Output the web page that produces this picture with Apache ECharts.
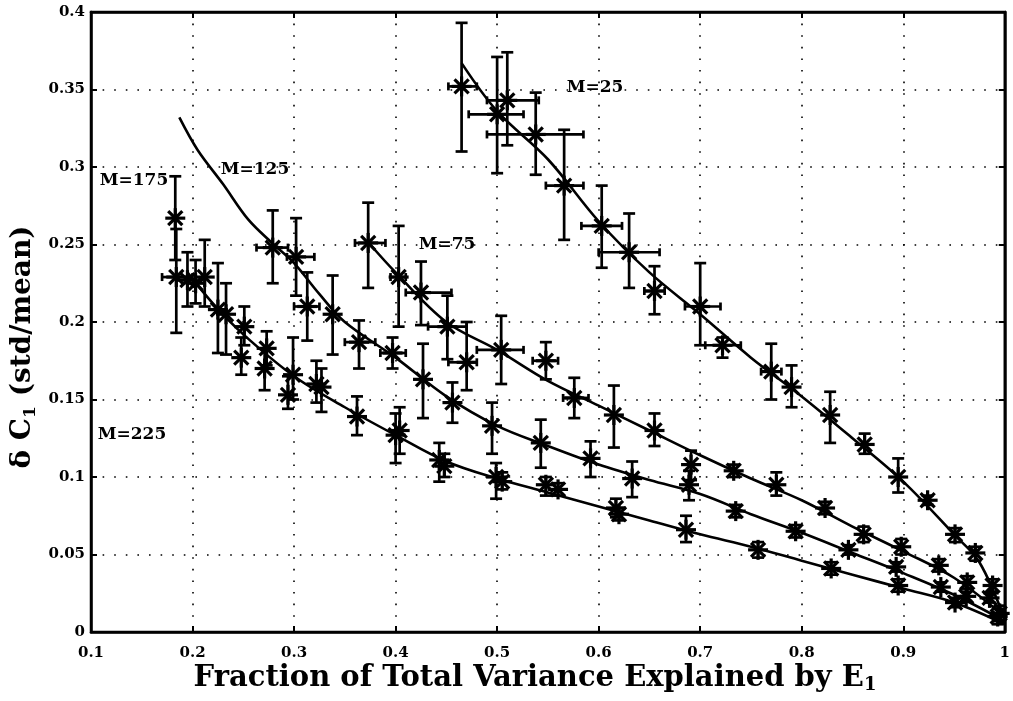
<!DOCTYPE html>
<html>
<head>
<meta charset="utf-8">
<script src="https://cdn.jsdelivr.net/npm/echarts@6/dist/echarts.min.js"></script>
<style>
  html, body { margin: 0; padding: 0; background: #fff; }
  #chart { width: 1013px; height: 701px; }
</style>
</head>
<body>
<div id="chart"></div>
<script>
// Measured points: [x, y, yLow, yHigh, xLow, xHigh]; null = no bar in that direction
const m25 = [
  [0.465, 0.352, 0.31, 0.393, 0.452, 0.48],
  [0.5, 0.334, 0.296, 0.371, 0.472, 0.526],
  [0.51, 0.343, 0.314, 0.374, 0.49, 0.541],
  [0.538, 0.321, 0.295, 0.348, 0.49, 0.585],
  [0.566, 0.288, 0.253, 0.324, 0.548, 0.585],
  [0.603, 0.262, 0.235, 0.288, 0.583, 0.623],
  [0.63, 0.245, 0.222, 0.27, 0.6, 0.66],
  [0.655, 0.22, 0.205, 0.236, 0.645, 0.665],
  [0.7, 0.21, 0.185, 0.238, 0.685, 0.72],
  [0.722, 0.185, 0.177, 0.19, 0.705, 0.74],
  [0.77, 0.168, 0.15, 0.186, 0.76, 0.78],
  [0.79, 0.158, 0.145, 0.172, null, null],
  [0.828, 0.14, 0.122, 0.155, null, null],
  [0.862, 0.121, 0.115, 0.128, null, null],
  [0.895, 0.1, 0.09, 0.112, null, null],
  [0.924, 0.085, 0.082, 0.088, null, null],
  [0.951, 0.063, 0.058, 0.067, null, null],
  [0.971, 0.051, 0.046, 0.055, null, null],
  [0.988, 0.03, 0.025, 0.034, null, null],
  [0.995, 0.012, 0.007, 0.017, null, null]
];
const m75 = [
  [0.373, 0.251, 0.222, 0.277, 0.36, 0.39],
  [0.403, 0.229, 0.197, 0.262, 0.395, 0.41],
  [0.425, 0.219, 0.198, 0.239, 0.41, 0.455],
  [0.451, 0.197, 0.176, 0.217, 0.432, 0.47],
  [0.47, 0.174, 0.156, 0.2, 0.452, 0.48],
  [0.504, 0.182, 0.16, 0.204, 0.48, 0.526],
  [0.548, 0.175, 0.163, 0.187, 0.535, 0.56],
  [0.576, 0.151, 0.138, 0.164, 0.565, 0.59],
  [0.615, 0.14, 0.119, 0.159, null, null],
  [0.655, 0.13, 0.12, 0.141, null, null],
  [0.691, 0.108, 0.098, 0.117, null, null],
  [0.733, 0.104, 0.1, 0.108, null, null],
  [0.775, 0.095, 0.088, 0.103, null, null],
  [0.823, 0.08, 0.076, 0.084, null, null],
  [0.861, 0.063, 0.058, 0.068, null, null],
  [0.898, 0.055, 0.05, 0.06, null, null],
  [0.935, 0.043, 0.039, 0.047, null, null],
  [0.963, 0.032, 0.028, 0.036, null, null],
  [0.985, 0.022, 0.019, 0.025, null, null]
];
const m125 = [
  [0.279, 0.248, 0.225, 0.272, 0.263, 0.294],
  [0.302, 0.242, 0.217, 0.267, 0.293, 0.32],
  [0.313, 0.21, 0.188, 0.232, 0.3, 0.325],
  [0.338, 0.205, 0.179, 0.23, null, null],
  [0.364, 0.187, 0.17, 0.201, 0.35, 0.38],
  [0.397, 0.18, 0.17, 0.19, 0.385, 0.41],
  [0.427, 0.163, 0.138, 0.186, null, null],
  [0.456, 0.148, 0.135, 0.161, null, null],
  [0.495, 0.133, 0.115, 0.148, null, null],
  [0.543, 0.122, 0.106, 0.137, null, null],
  [0.592, 0.112, 0.1, 0.123, null, null],
  [0.633, 0.099, 0.087, 0.11, null, null],
  [0.689, 0.095, 0.085, 0.104, null, null],
  [0.735, 0.078, 0.074, 0.082, null, null],
  [0.794, 0.065, 0.061, 0.069, null, null],
  [0.846, 0.053, 0.05, 0.056, null, null],
  [0.893, 0.042, 0.039, 0.045, null, null],
  [0.937, 0.029, 0.026, 0.032, null, null],
  [0.962, 0.023, 0.02, 0.026, null, null]
];
const m175 = [
  [0.183, 0.267, 0.24, 0.294, null, null],
  [0.195, 0.227, 0.21, 0.245, null, null],
  [0.212, 0.229, 0.21, 0.253, null, null],
  [0.233, 0.205, 0.179, 0.225, null, null],
  [0.251, 0.197, 0.185, 0.21, null, null],
  [0.273, 0.183, 0.172, 0.194, null, null],
  [0.299, 0.166, 0.15, 0.19, null, null],
  [0.322, 0.16, 0.148, 0.175, null, null],
  [0.404, 0.13, 0.115, 0.145, null, null],
  [0.448, 0.107, 0.1, 0.115, null, null],
  [0.505, 0.097, 0.092, 0.103, null, null],
  [0.56, 0.092, 0.088, 0.096, null, null],
  [0.62, 0.076, 0.072, 0.08, null, null]
];
const m225 = [
  [0.184, 0.229, 0.193, 0.26, 0.17, 0.2],
  [0.203, 0.225, 0.212, 0.24, null, null],
  [0.225, 0.208, 0.18, 0.238, null, null],
  [0.248, 0.177, 0.166, 0.19, null, null],
  [0.271, 0.17, 0.156, 0.183, null, null],
  [0.294, 0.153, 0.144, 0.165, null, null],
  [0.327, 0.158, 0.142, 0.17, null, null],
  [0.362, 0.139, 0.127, 0.152, null, null],
  [0.4, 0.127, 0.109, 0.141, null, null],
  [0.443, 0.111, 0.097, 0.122, null, null],
  [0.499, 0.1, 0.086, 0.109, null, null],
  [0.548, 0.095, 0.088, 0.1, null, null],
  [0.617, 0.08, 0.074, 0.086, null, null],
  [0.686, 0.066, 0.058, 0.075, null, null],
  [0.757, 0.053, 0.048, 0.058, null, null],
  [0.829, 0.041, 0.037, 0.045, null, null],
  [0.895, 0.03, 0.026, 0.034, null, null],
  [0.951, 0.019, 0.016, 0.022, null, null],
  [0.993, 0.01, 0.005, 0.015, null, null]
];

// Fitted curves
const fit25 = [[0.465, 0.367], [0.5, 0.336], [0.55, 0.305], [0.6, 0.265], [0.65, 0.232], [0.7, 0.205],
  [0.75, 0.177], [0.8, 0.152], [0.85, 0.125], [0.9, 0.097], [0.95, 0.063], [0.975, 0.045], [1.0, 0.008]];
const fit75 = [[0.375, 0.25], [0.4, 0.232], [0.45, 0.2], [0.5, 0.182], [0.55, 0.162], [0.6, 0.146],
  [0.65, 0.13], [0.7, 0.114], [0.75, 0.099], [0.8, 0.085], [0.85, 0.068], [0.9, 0.052], [0.95, 0.035], [1.0, 0.01]];
const fit125 = [[0.187, 0.332], [0.205, 0.311], [0.23, 0.289], [0.255, 0.266], [0.28, 0.25], [0.3, 0.238],
  [0.325, 0.218], [0.35, 0.2], [0.4, 0.177], [0.45, 0.152], [0.5, 0.133], [0.55, 0.12], [0.6, 0.108],
  [0.65, 0.098], [0.7, 0.089], [0.75, 0.076], [0.8, 0.064], [0.85, 0.051], [0.9, 0.038], [0.95, 0.024], [1.0, 0.007]];
const fit225 = [[0.195, 0.232], [0.22, 0.212], [0.25, 0.192], [0.3, 0.165], [0.35, 0.145], [0.4, 0.127],
  [0.45, 0.11], [0.5, 0.099], [0.55, 0.09], [0.6, 0.081], [0.65, 0.072], [0.7, 0.063], [0.75, 0.055],
  [0.8, 0.046], [0.85, 0.037], [0.9, 0.028], [0.95, 0.019], [1.0, 0.005]];

const xTicks = [0.1, 0.2, 0.3, 0.4, 0.5, 0.6, 0.7, 0.8, 0.9, 1];
const yTicks = [0, 0.05, 0.1, 0.15, 0.2, 0.25, 0.3, 0.35, 0.4];

const curveLabels = [
  { text: 'M=25', x: 595, y: 88 },
  { text: 'M=75', x: 447, y: 245 },
  { text: 'M=125', x: 255, y: 170 },
  { text: 'M=175', x: 134, y: 181 },
  { text: 'M=225', x: 132, y: 435 }
];

const SERIF = '"DejaVu Serif", "Liberation Serif", serif';
const INK = '#000';

// fill empty bar ends with the point itself so every row has six numbers
function rows(arr) {
  return arr.map(r => [r[0], r[1],
    r[2] == null ? r[1] : r[2], r[3] == null ? r[1] : r[3],
    r[4] == null ? r[0] : r[4], r[5] == null ? r[0] : r[5]]);
}

function renderPoint(params, api) {
  const x = api.value(0), y = api.value(1);
  const yl = api.value(2), yh = api.value(3), xl = api.value(4), xh = api.value(5);
  const c = api.coord([x, y]);
  const st = { stroke: INK, lineWidth: 2.7, fill: null };
  const kids = [];
  const seg = (x1, y1, x2, y2) => kids.push({ type: 'line', shape: { x1, y1, x2, y2 }, style: st });
  if (yh > yl) {
    const lo = api.coord([x, yl]), hi = api.coord([x, yh]);
    seg(lo[0], lo[1], hi[0], hi[1]);
    seg(lo[0] - 6, lo[1], lo[0] + 6, lo[1]);
    seg(hi[0] - 6, hi[1], hi[0] + 6, hi[1]);
  }
  if (xh > xl) {
    const l = api.coord([xl, y]), r = api.coord([xh, y]);
    seg(l[0], l[1], r[0], r[1]);
    seg(l[0], l[1] - 4, l[0], l[1] + 4);
    seg(r[0], r[1] - 4, r[0], r[1] + 4);
  }
  // asterisk marker
  const R = 10, D = R * 0.7071;
  const ms = { stroke: INK, lineWidth: 3.2, fill: null };
  [[R, 0], [0, R], [D, D], [D, -D]].forEach(([dx, dy]) => {
    kids.push({ type: 'line', shape: { x1: c[0] - dx, y1: c[1] - dy, x2: c[0] + dx, y2: c[1] + dy }, style: ms });
  });
  return { type: 'group', children: kids };
}

function pointSeries(name, arr) {
  return {
    name, type: 'custom', renderItem: renderPoint, data: rows(arr),
    encode: { x: 0, y: 1 }, clip: false, z: 3, silent: true
  };
}
function fitSeries(name, arr) {
  return {
    name, type: 'line', data: arr, smooth: 0.35, showSymbol: false, symbol: 'none',
    lineStyle: { color: INK, width: 2.6 }, z: 2, silent: true
  };
}

const tickLabel = { fontFamily: SERIF, fontWeight: 'bold', fontSize: 15, color: INK };
const gridDots = { show: true, lineStyle: { color: INK, width: 1.6, type: [1.6, 10] } };

const chart = echarts.init(document.getElementById('chart'), null, { renderer: 'canvas' });
chart.setOption({
  animation: false,
  backgroundColor: '#fff',
  grid: { left: 91, right: 6, top: 12, bottom: 69, show: true, borderColor: INK, borderWidth: 2.5, backgroundColor: 'transparent' },
  xAxis: [{
    type: 'value', min: 0.1, max: 1, interval: 0.1,
    axisLine: { show: true, onZero: false, lineStyle: { color: INK, width: 2.5 } },
    axisTick: { show: true, inside: true, length: 6, lineStyle: { color: INK, width: 2 } },
    axisLabel: Object.assign({ margin: 14, formatter: v => xTicks.find(t => Math.abs(t - v) < 1e-9) + '' }, tickLabel),
    splitLine: gridDots
  }, {
    type: 'value', min: 0.1, max: 1, interval: 0.1, position: 'top',
    axisLine: { show: true, onZero: false, lineStyle: { color: INK, width: 2.5 } },
    axisTick: { show: true, inside: true, length: 6, lineStyle: { color: INK, width: 2 } },
    axisLabel: { show: false }, splitLine: { show: false }
  }],
  yAxis: [{
    type: 'value', min: 0, max: 0.4, interval: 0.05,
    axisLine: { show: true, onZero: false, lineStyle: { color: INK, width: 2.5 } },
    axisTick: { show: true, inside: true, length: 6, lineStyle: { color: INK, width: 2 } },
    axisLabel: Object.assign({ margin: 6, formatter: v => yTicks.find(t => Math.abs(t - v) < 1e-9) + '' }, tickLabel),
    splitLine: gridDots
  }, {
    type: 'value', min: 0, max: 0.4, interval: 0.05, position: 'right',
    axisLine: { show: true, onZero: false, lineStyle: { color: INK, width: 2.5 } },
    axisTick: { show: true, inside: true, length: 6, lineStyle: { color: INK, width: 2 } },
    axisLabel: { show: false }, splitLine: { show: false }
  }],
  series: [
    fitSeries('M=25 fit', fit25),
    fitSeries('M=75 fit', fit75),
    fitSeries('M=125 fit', fit125),
    fitSeries('M=225 fit', fit225),
    pointSeries('M=25', m25),
    pointSeries('M=75', m75),
    pointSeries('M=125', m125),
    pointSeries('M=175', m175),
    pointSeries('M=225', m225)
  ],
  graphic: [
    ...curveLabels.map(l => ({
      type: 'text', x: l.x, y: l.y, z: 10,
      style: { text: l.text, font: 'bold 17px ' + SERIF, fill: INK, align: 'center', verticalAlign: 'middle' }
    })),
    {
      type: 'text', x: 535, y: 678, z: 10,
      style: {
        text: 'Fraction of Total Variance Explained by E{sub|1}',
        font: 'bold 29px ' + SERIF, fill: INK, align: 'center', verticalAlign: 'middle',
        rich: { sub: { fontFamily: SERIF, fontWeight: 'bold', fontSize: 18, padding: [15, 0, 0, 0] } }
      }
    },
    {
      type: 'text', x: 23, y: 347, rotation: Math.PI / 2, z: 10,
      style: {
        text: 'δ C{sub|1} (std/mean)',
        font: 'bold 28px ' + SERIF, fill: INK, align: 'center', verticalAlign: 'middle',
        rich: { sub: { fontFamily: SERIF, fontWeight: 'bold', fontSize: 17, padding: [15, 0, 0, 0] } }
      }
    }
  ]
});
</script>
</body>
</html>
